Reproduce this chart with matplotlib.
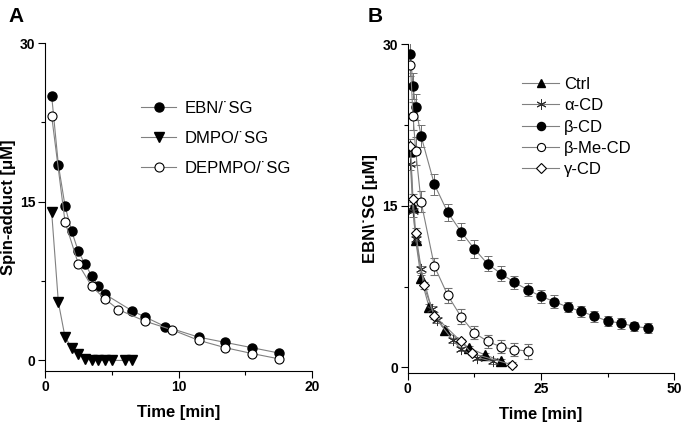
import matplotlib.pyplot as plt

plt.rcParams['font.family'] = ['Liberation Sans', 'DejaVu Sans']

# === Panel A data ===
ebn_t = [0.5, 1, 1.5, 2, 2.5, 3, 3.5, 4, 4.5, 6.5, 7.5, 9, 11.5, 13.5, 15.5, 17.5]
ebn_y = [25.0, 18.5, 14.6, 12.2, 10.3, 9.1, 8.0, 7.0, 6.25, 4.7, 4.1, 3.2, 2.2, 1.7, 1.2, 0.7]
dmpo_t = [0.5, 1, 1.5, 2, 2.5, 3, 3.5, 4, 4.5, 5, 6, 6.5]
dmpo_y = [14.0, 5.5, 2.2, 1.2, 0.6, 0.15, 0.0, 0.0, 0.0, 0.0, 0.0, 0.0]
depmpo_t = [0.5, 1.5, 2.5, 3.5, 4.5, 5.5, 7.5, 9.5, 11.5, 13.5, 15.5, 17.5]
depmpo_y = [23.1, 13.1, 9.1, 7.0, 5.8, 4.8, 3.7, 2.9, 1.9, 1.2, 0.65, 0.15]

# === Panel B data ===
ctrl_t = [0.5, 1, 1.5, 2.5, 4, 7, 11.5, 14.5, 17.5]
ctrl_y = [20.1, 14.9, 11.8, 8.3, 5.6, 3.5, 1.8, 1.15, 0.6]
ctrl_e = [0.6, 0.5, 0.4, 0.3, 0.3, 0.3, 0.2, 0.2, 0.2]
acd_t = [0.5, 1, 1.5, 2.5, 4.5, 5.5, 8.5, 10, 13, 16]
acd_y = [18.9, 14.5, 11.9, 9.1, 5.4, 4.4, 2.5, 1.7, 0.9, 0.55]
acd_e = [0.6, 0.5, 0.4, 0.3, 0.3, 0.3, 0.2, 0.2, 0.2, 0.2]
bcd_t = [0.5, 1, 1.5, 2.5, 5, 7.5, 10, 12.5, 15, 17.5, 20, 22.5, 25, 27.5,
         30, 32.5, 35, 37.5, 40, 42.5, 45]
bcd_y = [29.1, 26.1, 24.2, 21.5, 17.0, 14.4, 12.6, 11.0, 9.6, 8.7, 7.9, 7.2,
         6.6, 6.1, 5.6, 5.2, 4.75, 4.3, 4.1, 3.8, 3.65]
bcd_e = [1.0, 1.2, 1.2, 1.0, 1.0, 0.8, 0.8, 0.8, 0.7, 0.7, 0.6, 0.6, 0.6,
         0.6, 0.5, 0.5, 0.5, 0.5, 0.5, 0.45, 0.5]
bme_t = [0.5, 1, 1.5, 2.5, 5, 7.5, 10, 12.5, 15, 17.5, 20, 22.5]
bme_y = [28.1, 23.35, 20.1, 15.4, 9.4, 6.7, 4.7, 3.2, 2.4, 1.9, 1.65, 1.5]
bme_e = [1.0, 1.3, 1.3, 1.0, 0.8, 0.7, 0.7, 0.6, 0.6, 0.6, 0.6, 0.7]
gcd_t = [0.5, 1, 1.5, 3, 5, 10, 12, 19.5]
gcd_y = [20.6, 15.6, 12.5, 7.6, 4.8, 2.4, 1.3, 0.25]
gcd_e = [0.6, 0.5, 0.4, 0.3, 0.3, 0.2, 0.2, 0.2]

line_c = '#808080'
label_font = dict(fontsize=12, fontweight='bold')


def style_axes(ax):
    ax.spines['top'].set_visible(False)
    ax.spines['right'].set_visible(False)
    ax.tick_params(which='major', direction='out', length=5, width=0.8)
    ax.tick_params(which='minor', direction='out', length=3, width=0.8)
    ax.tick_params(axis='x', which='major', pad=1.5)
    ax.tick_params(axis='y', which='major', pad=2)
    for lab in ax.get_xticklabels() + ax.get_yticklabels():
        lab.set_fontweight('bold')
        lab.set_fontsize(10)


fig = plt.figure(figsize=(6.85, 4.23), dpi=100)

# === Panel A ===
axA = fig.add_axes([0.0657, 0.123, 0.390, 0.775])
axA.plot(ebn_t, ebn_y, '-o', color=line_c, lw=0.8, mfc='black', mec='black',
         ms=6.5, label='EBN/\u02d9SG')
axA.plot(dmpo_t, dmpo_y, '-v', color=line_c, lw=0.8, mfc='black', mec='black',
         ms=7, label='DMPO/\u02d9SG')
axA.plot(depmpo_t, depmpo_y, '-o', color=line_c, lw=0.8, mfc='white', mec='black',
         mew=0.8, ms=6.5, label='DEPMPO/\u02d9SG')
axA.set_xlim(0, 20)
axA.set_ylim(-1, 30)
axA.set_xticks([0, 10, 20])
axA.set_xticks([5, 15], minor=True)
axA.set_yticks([0, 15, 30])
axA.set_yticks([7.5, 22.5], minor=True)
style_axes(axA)
axA.set_xlabel('Time [min]', labelpad=8, **label_font)
axA.set_ylabel('Spin-adduct [\u03bcM]', labelpad=3, **label_font)
axA.legend(loc='upper left', bbox_to_anchor=(0.36, 0.823), frameon=False,
           fontsize=12, handlelength=2.1, handletextpad=0.5, labelspacing=0.9,
           borderpad=0, borderaxespad=0)
fig.text(0.012, 0.983, 'A', fontsize=15, fontweight='bold', va='top')

# === Panel B ===
axB = fig.add_axes([0.5952, 0.119, 0.389, 0.776])
eb = dict(ecolor='#707070', elinewidth=0.7, capsize=3.2, capthick=0.7)
axB.errorbar(ctrl_t, ctrl_y, yerr=ctrl_e, fmt='-^', color=line_c, lw=0.8,
             mfc='black', mec='black', ms=7, label='Ctrl', **eb)
axB.errorbar(acd_t, acd_y, yerr=acd_e, fmt='-', color=line_c, lw=0.8,
             mec='#303030', mew=0.7, ms=8, label='\u03b1-CD', marker=(6, 2, 0), **eb)
axB.errorbar(bcd_t, bcd_y, yerr=bcd_e, fmt='-o', color=line_c, lw=0.8,
             mfc='black', mec='black', ms=6.5, label='\u03b2-CD', **eb)
axB.errorbar(bme_t, bme_y, yerr=bme_e, fmt='-o', color=line_c, lw=0.8,
             mfc='white', mec='black', mew=0.8, ms=6.5, label='\u03b2-Me-CD', **eb)
axB.errorbar(gcd_t, gcd_y, yerr=gcd_e, fmt='-D', color=line_c, lw=0.8,
             mfc='white', mec='black', mew=0.8, ms=5.5, label='\u03b3-CD', **eb)
axB.set_xlim(0, 50)
axB.set_ylim(-0.5, 30)
axB.set_xticks([0, 25, 50])
axB.set_xticks([12.5, 37.5], minor=True)
axB.set_yticks([0, 15, 30])
axB.set_yticks([7.5, 22.5], minor=True)
style_axes(axB)
axB.set_xlabel('Time [min]', labelpad=8, **label_font)
axB.set_ylabel('EBN\\\u02d9SG [\u03bcM]', labelpad=3, **label_font)
handles, labels = axB.get_legend_handles_labels()
handles = [h[0] for h in handles]
axB.legend(handles, labels, loc='upper left', bbox_to_anchor=(0.43, 0.901),
           frameon=False, fontsize=12, handlelength=2.2, handletextpad=0.3,
           labelspacing=0.38, borderpad=0, borderaxespad=0, markerscale=0.9)
fig.text(0.537, 0.983, 'B', fontsize=15, fontweight='bold', va='top')

plt.savefig('out.png', dpi=100)
